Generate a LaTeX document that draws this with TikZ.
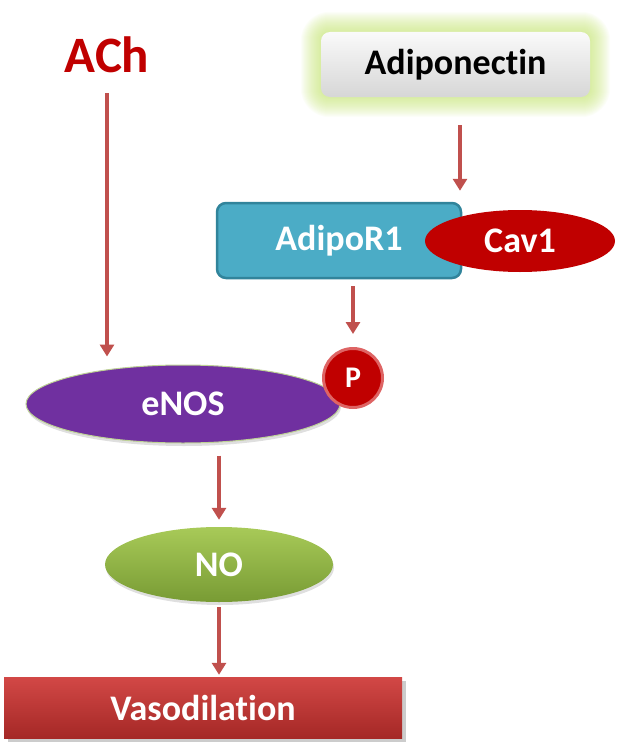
\documentclass[tikz,border=0pt]{standalone}
\usepackage{fontspec}
\setmainfont[Ligatures=NoCommon]{Carlito}
\usetikzlibrary{shapes.geometric, arrows.meta, shadows, backgrounds}

\definecolor{achred}{RGB}{192,0,0}
\definecolor{arrowred}{RGB}{192,80,77}
\definecolor{receptorblue}{RGB}{75,172,198}
\definecolor{receptorrim}{RGB}{49,132,155}
\definecolor{enospurple}{RGB}{112,48,160}
\definecolor{enosrim}{RGB}{190,210,150}
\definecolor{prim}{RGB}{222,100,100}
\definecolor{notop}{RGB}{168,202,88}
\definecolor{nobottom}{RGB}{120,155,52}
\definecolor{vasotop}{RGB}{210,72,70}
\definecolor{vasobottom}{RGB}{165,40,38}
\definecolor{glowgreen}{RGB}{190,225,100}

\begin{document}
\begin{tikzpicture}[x=1pt, y=-1pt,
    >={Triangle[width=14pt, length=12pt]},
    link/.style = {->, draw=arrowred, line width=4pt},
    molecule/.style = {inner sep=0pt, text=white, font=\fontsize{36}{40}\bfseries\selectfont},
    protein/.style = {molecule, ellipse, drop shadow={opacity=0.25, shadow xshift=1pt, shadow yshift=-3pt}},
    glow/.style = {glowgreen, opacity=0.045}]
  \useasboundingbox (0, 0) rectangle (621, 752);

  % Ligands.
  \node at (107, 55) [name=ACh, inner sep=0pt, text=achred,
                      font=\fontsize{51}{56}\bfseries\selectfont] {ACh};
  \node at (455.5, 64.5) [molecule, name=Adiponectin, text=black, rectangle, rounded corners=9pt,
                          minimum width=269pt, minimum height=65pt,
                          top color=gray!4, bottom color=gray!32] {Adiponectin};

  % Receptor.
  \node at (339, 240.5) [molecule, name=AdipoR1, rectangle, rounded corners=9pt,
                         minimum width=244pt, minimum height=75pt,
                         fill=receptorblue, draw=receptorrim, line width=2.5pt] {AdipoR1};
  \node at (520, 241) [molecule, name=Cav1, ellipse, fill=achred,
                       minimum width=190pt, minimum height=62pt] {Cav1};

  % Enzyme and products.
  \node at (183, 404) [protein, name=eNOS, fill=enospurple, draw=enosrim, line width=1pt,
                       minimum width=314pt, minimum height=78pt] {eNOS};
  \node at (353, 378) [molecule, name=P, circle, fill=achred, draw=prim,
                       line width=3pt, minimum size=59pt,
                       font=\fontsize{30}{34}\bfseries\selectfont] {P};
  \node at (219, 564.5) [protein, name=NO, top color=notop, bottom color=nobottom,
                         minimum width=228pt, minimum height=75pt] {NO};
  \node at (203, 707.5) [molecule, name=Vasodilation, rectangle,
                         top color=vasotop, bottom color=vasobottom,
                         minimum width=398pt, minimum height=61pt,
                         drop shadow={opacity=0.4, shadow xshift=4pt, shadow yshift=-4pt}] {Vasodilation};

  % Glow.
  \begin{scope}[on background layer]
    \foreach \g [evaluate=\g as \r using \g+9] in {1, 2, ..., 20}
      \fill [glow, rounded corners=\r pt] ([shift={(-\g pt, \g pt)}]Adiponectin.north west)
                   rectangle ([shift={(\g pt, -\g pt)}]Adiponectin.south east);
  \end{scope}

  % Signalling.
  \draw [link, shorten <=20pt, shorten >=8pt] (ACh.south) to (ACh.south |- eNOS.north);
  \draw [link, shorten <=28pt, shorten >=11pt]
        ([xshift=4.5pt]Adiponectin.south)
        to ([xshift=4.5pt]Adiponectin.south |- AdipoR1.north);
  \draw [link, shorten <=7pt, shorten >=13pt] (AdipoR1.south -| P.north) to (P.north);
  \draw [link, shorten <=12pt, shorten >=7pt] (NO.north |- eNOS.south) to (NO.north);
  \draw [link, shorten <=5pt, shorten >=2pt] (NO.south) to (NO.south |- Vasodilation.north);
\end{tikzpicture}
\end{document}
